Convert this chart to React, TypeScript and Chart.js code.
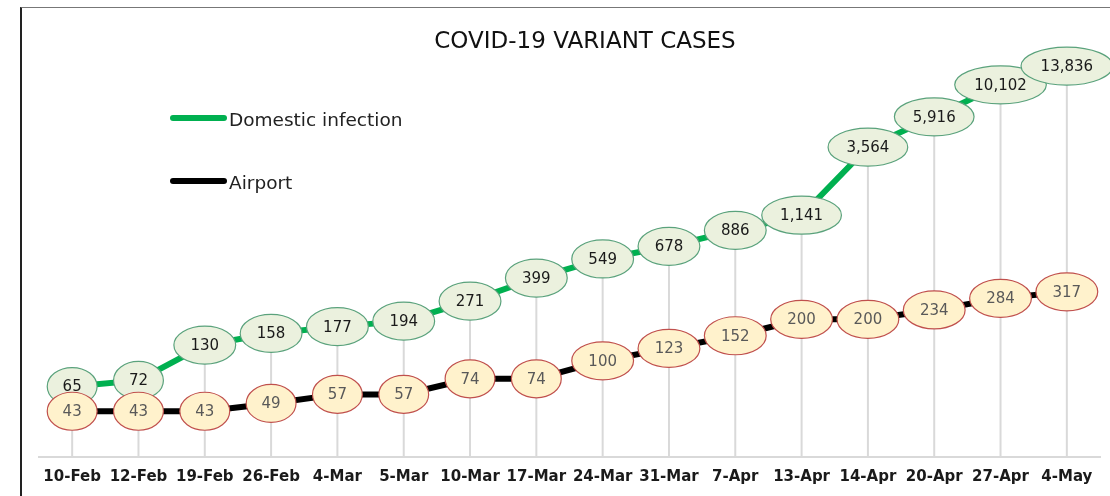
import React, { useEffect, useRef } from "react";
import { Chart, registerables } from "chart.js";

Chart.register(...registerables);

const categories = ["10-Feb", "12-Feb", "19-Feb", "26-Feb", "4-Mar", "5-Mar", "10-Mar", "17-Mar", "24-Mar", "31-Mar", "7-Apr", "13-Apr", "14-Apr", "20-Apr", "27-Apr", "4-May"];
const domestic = [65, 72, 130, 158, 177, 194, 271, 399, 549, 678, 886, 1141, 3564, 5916, 10102, 13836];
const airport = [43, 43, 43, 49, 57, 57, 74, 74, 100, 123, 152, 200, 200, 234, 284, 317];
const seriesNames = ["Domestic infection", "Airport"];
const titleText = "COVID-19 VARIANT CASES";

const GREEN = "#00B050";
const BLACK = "#000000";
const FONT = "'DejaVu Sans', sans-serif";

const dropLines = {
  id: "dropLines",
  beforeDatasetsDraw(chart: any) {
    const { ctx, chartArea, scales } = chart;
    ctx.save();
    ctx.strokeStyle = "#d9d9d9";
    ctx.lineWidth = 2;
    categories.forEach((_, i) => {
      const x = scales.x.getPixelForValue(i);
      const top = scales.y.getPixelForValue(Math.max(domestic[i], airport[i]));
      ctx.beginPath();
      ctx.moveTo(x, top);
      ctx.lineTo(x, chartArea.bottom);
      ctx.stroke();
    });
    ctx.restore();
  },
};

const ellipseLabels = {
  id: "ellipseLabels",
  afterDatasetsDraw(chart: any) {
    const { ctx } = chart;
    const styles = [
      { fill: "#EBF1DE", stroke: "#5AA27C", text: "#1a1a1a" },
      { fill: "#FFF2CC", stroke: "#C0504D", text: "#595959" },
    ];
    ctx.save();
    ctx.font = `15px ${FONT}`;
    ctx.textAlign = "center";
    ctx.textBaseline = "middle";
    chart.data.datasets.forEach((ds: any, di: number) => {
      const meta = chart.getDatasetMeta(di);
      const st = styles[di];
      meta.data.forEach((pt: any, i: number) => {
        const txt = Number(ds.data[i]).toLocaleString("en-US");
        const tw = ctx.measureText(txt).width;
        const w = tw * 1.25 + 26;
        const h = 38;
        ctx.beginPath();
        ctx.ellipse(pt.x, pt.y, w / 2, h / 2, 0, 0, Math.PI * 2);
        ctx.fillStyle = st.fill;
        ctx.fill();
        ctx.lineWidth = 1.2;
        ctx.strokeStyle = st.stroke;
        ctx.stroke();
        ctx.fillStyle = st.text;
        ctx.fillText(txt, pt.x, pt.y + 1);
      });
    });
    ctx.restore();
  },
};

const titleLegend = {
  id: "titleLegend",
  afterDraw(chart: any) {
    const { ctx } = chart;
    ctx.save();
    ctx.fillStyle = "#111";
    ctx.font = `23px ${FONT}`;
    ctx.textAlign = "center";
    ctx.textBaseline = "middle";
    ctx.fillText(titleText, 585, 42);

    const colors = [GREEN, BLACK];
    const ys = [118, 181];
    ctx.font = `18.5px ${FONT}`;
    ctx.textAlign = "left";
    seriesNames.forEach((name, i) => {
      ctx.beginPath();
      ctx.lineCap = "round";
      ctx.lineWidth = 6;
      ctx.strokeStyle = colors[i];
      ctx.moveTo(173, ys[i]);
      ctx.lineTo(224, ys[i]);
      ctx.stroke();
      ctx.fillStyle = "#222";
      ctx.fillText(name, 229, ys[i] + 3);
    });
    ctx.restore();
  },
};

export default function App() {
  const ref = useRef<HTMLCanvasElement>(null);
  useEffect(() => {
    if (!ref.current) return;
    const chart = new Chart(ref.current, {
      type: "line",
      data: {
        labels: categories,
        datasets: [
          { label: seriesNames[0], data: domestic, borderColor: GREEN, borderWidth: 6, pointRadius: 0, tension: 0 },
          { label: seriesNames[1], data: airport, borderColor: BLACK, borderWidth: 6, pointRadius: 0, tension: 0 },
        ],
      },
      options: {
        responsive: false,
        animation: false,
        layout: { padding: { left: 39, right: 10, top: 44, bottom: 0 } },
        plugins: { legend: { display: false }, title: { display: false }, tooltip: { enabled: false } },
        scales: {
          x: {
            offset: true,
            grid: { display: false, drawTicks: false },
            border: { display: true, color: "#d9d9d9", width: 2 },
            ticks: { padding: 11, color: "#1a1a1a", font: { family: FONT, size: 15, weight: "bold" }, maxRotation: 0, autoSkip: false },
            afterFit(scale: any) {
              scale.height = 39;
            },
          },
          y: { type: "logarithmic", display: false, min: 20, max: 20000 },
        },
      },
      plugins: [dropLines, ellipseLabels, titleLegend],
    });
    return () => chart.destroy();
  }, []);
  return (
    <div style={{ position: "absolute", left: 0, top: 0, width: 1110, height: 496, background: "#fff", overflow: "hidden" }}>
      <div style={{ position: "absolute", left: 20, top: 7, right: -10, bottom: -10, borderTop: "1px solid #777", borderLeft: "2px solid #222" }} />
      <canvas ref={ref} width={1110} height={496} style={{ position: "absolute", left: 0, top: 0 }} />
    </div>
  );
}
